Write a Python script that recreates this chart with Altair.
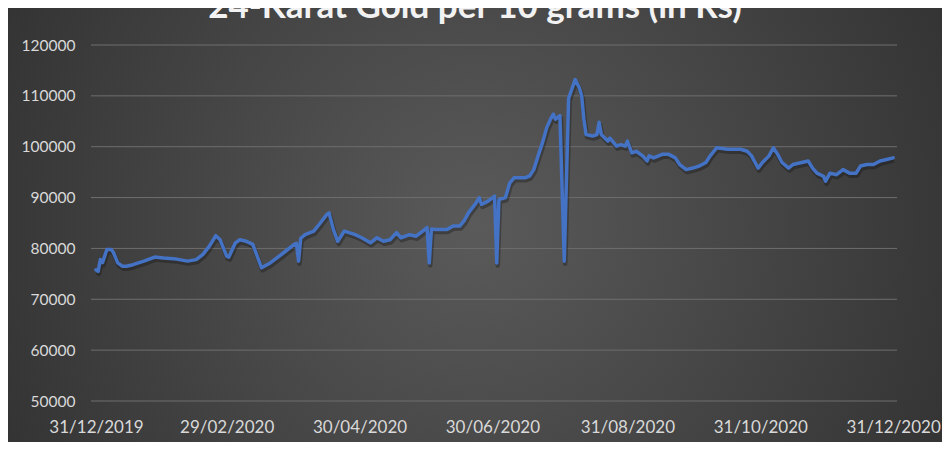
import altair as alt
import pandas as pd

title_text = "24-Karat Gold per 10 grams (in Rs)"

dates = [
    "2019-12-31", "2020-01-01", "2020-01-02", "2020-01-03", "2020-01-05", "2020-01-07",
    "2020-01-08", "2020-01-10", "2020-01-12", "2020-01-14", "2020-01-17", "2020-01-22",
    "2020-01-27", "2020-01-31", "2020-02-06", "2020-02-11", "2020-02-15", "2020-02-18",
    "2020-02-21", "2020-02-24", "2020-02-26", "2020-02-29", "2020-03-01", "2020-03-04",
    "2020-03-06", "2020-03-09", "2020-03-12", "2020-03-16", "2020-03-20", "2020-03-26",
    "2020-03-31", "2020-04-01", "2020-04-02", "2020-04-03", "2020-04-05", "2020-04-09",
    "2020-04-12", "2020-04-15", "2020-04-16", "2020-04-18", "2020-04-20", "2020-04-23",
    "2020-04-28", "2020-05-01", "2020-05-05", "2020-05-08", "2020-05-11", "2020-05-14",
    "2020-05-17", "2020-05-19", "2020-05-23", "2020-05-26", "2020-05-29", "2020-05-31",
    "2020-06-01", "2020-06-02", "2020-06-04", "2020-06-09", "2020-06-12", "2020-06-15",
    "2020-06-17", "2020-06-19", "2020-06-22", "2020-06-24", "2020-06-25", "2020-06-28",
    "2020-07-01", "2020-07-02", "2020-07-03", "2020-07-06", "2020-07-08", "2020-07-10",
    "2020-07-15", "2020-07-17", "2020-07-19", "2020-07-21", "2020-07-23", "2020-07-25",
    "2020-07-27", "2020-07-28", "2020-07-29", "2020-07-31", "2020-08-02", "2020-08-04",
    "2020-08-07", "2020-08-09", "2020-08-10", "2020-08-11", "2020-08-12", "2020-08-15",
    "2020-08-17", "2020-08-18", "2020-08-19", "2020-08-22", "2020-08-23", "2020-08-26",
    "2020-08-28", "2020-08-30", "2020-08-31", "2020-09-02", "2020-09-04", "2020-09-07",
    "2020-09-09", "2020-09-10", "2020-09-12", "2020-09-16", "2020-09-19", "2020-09-22",
    "2020-09-24", "2020-09-27", "2020-09-30", "2020-10-03", "2020-10-06", "2020-10-08",
    "2020-10-11", "2020-10-16", "2020-10-22", "2020-10-25", "2020-10-27", "2020-10-30",
    "2020-11-01", "2020-11-04", "2020-11-06", "2020-11-08", "2020-11-10", "2020-11-13",
    "2020-11-15", "2020-11-19", "2020-11-22", "2020-11-24", "2020-11-26", "2020-11-29",
    "2020-11-30", "2020-12-02", "2020-12-05", "2020-12-08", "2020-12-11", "2020-12-14",
    "2020-12-16", "2020-12-19", "2020-12-22", "2020-12-25", "2020-12-28", "2020-12-31",
]

prices = [
    75800, 75500, 77800, 77200, 79800, 79800,
    79200, 77150, 76500, 76500, 76800, 77500,
    78300, 78100, 77900, 77500, 77800, 78800,
    80400, 82500, 81700, 78500, 78300, 81100,
    81700, 81400, 80800, 76200, 77150, 79100,
    80800, 81000, 77500, 82000, 82700, 83400,
    85000, 86700, 87000, 83700, 81400, 83400,
    82700, 82100, 81100, 82100, 81400, 81700,
    83100, 82100, 82700, 82400, 83400, 84100,
    77150, 83800, 83700, 83700, 84400, 84400,
    85400, 87000, 88650, 89970, 88650, 89300,
    90300, 77150, 89600, 90000, 92900, 93900,
    93900, 94200, 95500, 98200, 100800, 103800,
    105700, 106400, 105400, 106100, 77500, 109500,
    113200, 111500, 110000, 105400, 102400, 102100,
    102400, 104800, 102400, 101100, 101700, 100100,
    100400, 100100, 101100, 98800, 99100, 98200,
    97200, 98200, 97800, 98500, 98500, 97800,
    96500, 95500, 95800, 96200, 96900, 98200,
    99800, 99500, 99500, 99100, 98200, 95800,
    96900, 98200, 99800, 98500, 96900, 95800,
    96500, 96900, 97200, 95800, 94800, 94200,
    93200, 94800, 94500, 95500, 94800, 94800,
    96200, 96500, 96500, 97200, 97500, 97800,
]

y_ticks = [50000, 60000, 70000, 80000, 90000, 100000, 110000, 120000]
x_tick_dates = ["2019-12-31", "2020-02-29", "2020-04-30", "2020-06-30",
                "2020-08-31", "2020-10-31", "2020-12-31"]

FONT = "Lato"
LABEL_COLOR = "#d9d9d9"
W, H = 806, 356
PAD = {"left": 83, "top": 37, "right": 45, "bottom": 41}


def dt(s, h=0, m=0):
    y, mo, d = (int(p) for p in s.split("-"))
    return alt.DateTime(year=y, month=mo, date=d, hours=h, minutes=m, utc=True)


df = pd.DataFrame({"date": dates, "price": prices})
grid_df = pd.DataFrame({"price": y_ticks})
title_df = pd.DataFrame({"t": [title_text]})

x_scale = alt.Scale(type="utc", domain=[dt("2019-12-28", 17), dt("2021-01-01", 18, 30)])
y_scale = alt.Scale(domain=[50000, 120000], nice=False, zero=False)

bg = alt.Chart(pd.DataFrame({"k": [0]})).mark_rect(
    fill=alt.RadialGradient(
        gradient="radial",
        stops=[alt.GradientStop(color="#5a5a5a", offset=0),
               alt.GradientStop(color="#262626", offset=1)],
        x1=0.5, y1=0.5, r1=0, x2=0.5, y2=0.5, r2=0.75,
    )
).encode(
    x=alt.value(-PAD["left"]), x2=alt.value(W + PAD["right"]),
    y=alt.value(-PAD["top"]), y2=alt.value(H + PAD["bottom"]),
)

grid = alt.Chart(grid_df).mark_rule(color="#6e6e6e", strokeWidth=1).encode(
    y=alt.Y("price:Q", scale=y_scale, axis=alt.Axis(
        values=y_ticks, format="d", labelColor=LABEL_COLOR, labelFont=FONT,
        labelFontSize=15.5, labelPadding=16, domain=False, ticks=False, tickSize=0,
        grid=False, title=None, zindex=2)),
    x=alt.value(0), x2=alt.value(W),
)

x_enc = alt.X("date:T", scale=x_scale, axis=alt.Axis(
    values=[dt(s) for s in x_tick_dates], format="%d/%m/%Y", labelColor=LABEL_COLOR,
    labelFont=FONT, labelFontSize=17, labelPadding=18, labelFlush=False,
    labelOverlap=False, domain=False, ticks=False, tickSize=0, grid=False, title=None,
    zindex=2))

shadow = alt.Chart(df).mark_line(
    color="#111111", opacity=0.35, strokeWidth=4.5, yOffset=2.5, xOffset=1,
    strokeJoin="round",
).encode(x=x_enc, y=alt.Y("price:Q", scale=y_scale))

line = alt.Chart(df).mark_line(
    color="#4472C4", strokeWidth=3.5, strokeJoin="round", strokeCap="round",
).encode(x=x_enc, y=alt.Y("price:Q", scale=y_scale))

title = alt.Chart(title_df).mark_text(
    font=FONT, fontSize=35, fontWeight="bold", color="#f2f2f2",
    align="center", baseline="alphabetic",
).encode(text="t:N", x=alt.value(384), y=alt.value(-27))

chart = alt.layer(bg, grid, shadow, line, title).properties(
    width=W, height=H,
    autosize="none",
    padding=PAD,
    background="#333333",
).configure_view(strokeWidth=0)

chart.save("out.html", embed_options={"renderer": "svg", "actions": False})
